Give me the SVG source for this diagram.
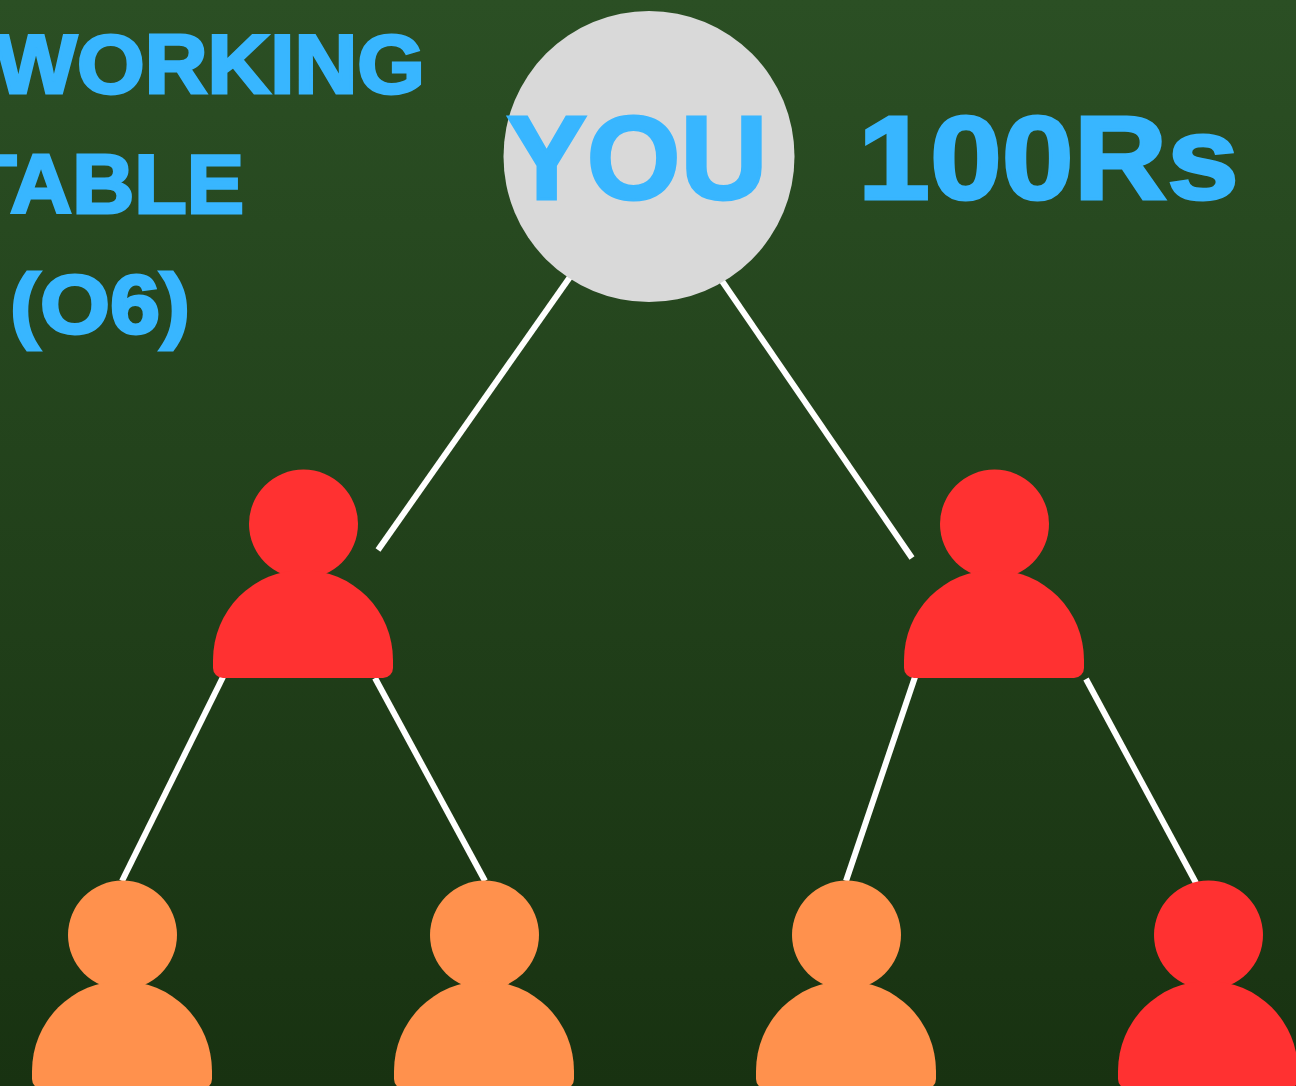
<svg xmlns="http://www.w3.org/2000/svg" width="1296" height="1086" viewBox="0 0 1296 1086">
<style>
.t{font-family:"Liberation Sans",Arial,sans-serif;font-weight:700;fill:#38b6ff;stroke:#38b6ff;stroke-width:3;stroke-linejoin:miter}
.l{stroke:#fff;stroke-width:6;fill:none}
.red{fill:#ff3131}.org{fill:#ff914d}
</style>
<defs>
<linearGradient id="bg" x1="0" y1="0" x2="0" y2="1"><stop offset="0" stop-color="#2b4f24"/><stop offset="1" stop-color="#183211"/></linearGradient>
<g id="p"><circle cx="0.500" cy="0" r="54.500"/><path d="M-90 136A90 90 0 0 1 90 136V144A10 10 0 0 1 80 154H-80A10 10 0 0 1 -90 144Z"/></g>
</defs>
<rect width="1296" height="1086" fill="url(#bg)"/>
<g id="connectors" class="l">
<line x1="570" y1="277" x2="378" y2="550"/>
<line x1="722" y1="281" x2="912" y2="558"/>
<line x1="223" y1="677" x2="122" y2="881"/>
<line x1="375" y1="678" x2="485" y2="881"/>
<line x1="915" y1="677" x2="846" y2="881"/>
<line x1="1086" y1="679" x2="1196" y2="883"/>
</g>
<g id="you"><circle cx="649" cy="156.500" r="145.500" fill="#d9d9d9"/><text class="t" x="637" y="199" font-size="118" text-anchor="middle" textLength="261" lengthAdjust="spacingAndGlyphs">YOU</text></g>
<text class="t" x="1048.500" y="199" font-size="118" text-anchor="middle" textLength="381" lengthAdjust="spacingAndGlyphs">100Rs</text>
<g id="title"><text class="t" x="-5" y="93" font-size="84" textLength="430" lengthAdjust="spacingAndGlyphs">WORKING</text>
<text class="t" x="-36" y="213" font-size="84" textLength="280" lengthAdjust="spacingAndGlyphs">TABLE</text>
<text class="t" x="10" y="333" font-size="84" textLength="180" lengthAdjust="spacingAndGlyphs">(O6)</text></g>
<use id="n1" href="#p" class="red" x="303" y="524"/>
<use id="n2" href="#p" class="red" x="994" y="524"/>
<use id="n3" href="#p" class="org" x="122" y="935"/>
<use id="n4" href="#p" class="org" x="484" y="935"/>
<use id="n5" href="#p" class="org" x="846" y="935"/>
<use id="n6" href="#p" class="red" x="1208" y="935"/>
</svg>
